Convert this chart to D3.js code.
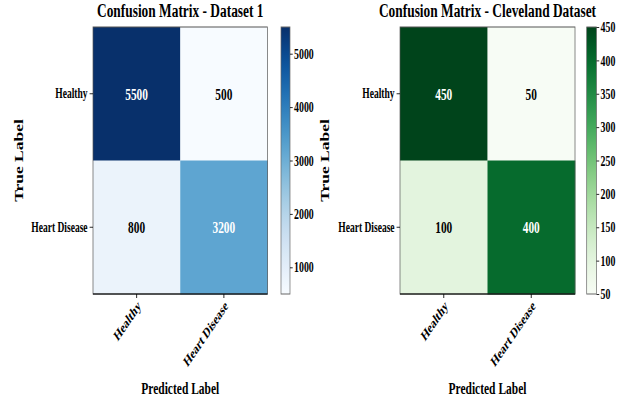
<!DOCTYPE html>
<html>
<head>
<meta charset="utf-8">
<script src="https://cdn.jsdelivr.net/npm/d3@7"></script>
<style>
  body { margin: 0; background: #fff; }
  text { font-family: 'Liberation Serif', 'Times New Roman', serif; font-weight: bold; fill: #000; }
</style>
</head>
<body>
<div id="chart"></div>
<script>
const classes = ['Healthy', 'Heart Disease'];
const matrix1 = [[5500, 500], [800, 3200]];
const matrix2 = [[450, 50], [100, 400]];
const cbTicks1 = [1000, 2000, 3000, 4000, 5000];
const cbTicks2 = [50, 100, 150, 200, 250, 300, 350, 400, 450];
const titles = ['Confusion Matrix - Dataset 1', 'Confusion Matrix - Cleveland Dataset'];

// the picture is squeezed sideways, so everything is drawn wide and scaled in x
const sx = 0.68;
const X = v => v / sx;
const plotTop = 27, plotBottom = 294;

const svg = d3.select('#chart').append('svg')
  .attr('width', 628).attr('height', 401);
const defs = svg.append('defs');
const root = svg.append('g').attr('transform', `scale(${sx},1)`);

function drawPanel(matrix, interp, cbTicks, title, box) {
  const g = root.append('g');
  const flat = matrix.flat();
  const vmin = d3.min(flat), vmax = d3.max(flat);
  const color = d3.scaleSequential(interp).domain([vmin, vmax]);

  const xScale = d3.scaleBand().domain(classes).range([X(box.left), X(box.right)]);
  const yScale = d3.scaleBand().domain(classes).range([plotTop, plotBottom]);

  const cells = [];
  matrix.forEach((row, i) => row.forEach((v, j) => cells.push({ t: classes[i], p: classes[j], v })));

  g.selectAll('rect.cell')
    .data(cells).enter()
    .append('rect')
    .attr('class', 'cell')
    .attr('x', d => xScale(d.p))
    .attr('y', d => yScale(d.t))
    .attr('width', xScale.bandwidth() + 0.5)
    .attr('height', yScale.bandwidth() + 0.5)
    .style('fill', d => color(d.v));

  g.selectAll('text.annot')
    .data(cells).enter()
    .append('text')
    .attr('class', 'annot')
    .attr('x', d => xScale(d.p) + xScale.bandwidth() / 2)
    .attr('y', d => yScale(d.t) + yScale.bandwidth() / 2)
    .attr('dy', '0.35em')
    .style('text-anchor', 'middle')
    .style('font-size', '16.7px')
    .style('fill', d => d.v > (vmin + vmax) / 2 ? '#fff' : '#000')
    .text(d => d.v);

  // spines
  g.append('rect')
    .attr('x', X(box.left)).attr('y', plotTop)
    .attr('width', X(box.right) - X(box.left)).attr('height', plotBottom - plotTop)
    .style('fill', 'none').style('stroke', '#555').style('stroke-width', 1);
  g.append('line')
    .attr('x1', X(box.left)).attr('x2', X(box.right))
    .attr('y1', plotBottom).attr('y2', plotBottom)
    .style('stroke', '#000').style('stroke-width', 1.2);

  const yAxis = g.append('g')
    .attr('transform', `translate(${X(box.left)},0)`)
    .call(d3.axisLeft(yScale).tickSize(5).tickPadding(3).tickSizeOuter(0))
    .attr('font-family', null).attr('font-size', null);
  yAxis.select('.domain').remove();
  yAxis.selectAll('text').style('font-size', '14px');

  const xAxis = g.append('g')
    .attr('transform', `translate(0,${plotBottom})`)
    .call(d3.axisBottom(xScale).tickSize(4).tickSizeOuter(0))
    .attr('font-family', null).attr('font-size', null);
  xAxis.select('.domain').remove();
  xAxis.selectAll('text')
    .style('font-size', '14.5px')
    .style('text-anchor', 'end')
    .attr('x', 7).attr('y', 13).attr('dy', 0)
    .attr('transform', 'rotate(-45,7,13)');

  g.append('text')
    .attr('x', (X(box.left) + X(box.right)) / 2)
    .attr('y', 17)
    .style('text-anchor', 'middle')
    .style('font-size', '19.7px')
    .text(title);

  g.append('text')
    .attr('x', (X(box.left) + X(box.right)) / 2)
    .attr('y', 394)
    .style('text-anchor', 'middle')
    .style('font-size', '16.9px')
    .text('Predicted Label');

  g.append('text')
    .attr('transform', `translate(${X(box.ylab)},${(plotTop + plotBottom) / 2}) rotate(-90)`)
    .style('text-anchor', 'middle')
    .style('font-size', '17.5px')
    .text('True Label');

  // colorbar
  const gradId = 'grad' + box.left;
  const grad = defs.append('linearGradient')
    .attr('id', gradId).attr('x1', 0).attr('x2', 0).attr('y1', 1).attr('y2', 0);
  d3.range(0, 1.0001, 0.05).forEach(t => {
    grad.append('stop').attr('offset', t).attr('stop-color', interp(t));
  });
  const cbScale = d3.scaleLinear().domain([vmin, vmax]).range([plotBottom, plotTop]);
  g.append('rect')
    .attr('x', X(box.cbLeft)).attr('y', plotTop)
    .attr('width', X(box.cbRight) - X(box.cbLeft)).attr('height', plotBottom - plotTop)
    .style('fill', `url(#${gradId})`)
    .style('stroke', '#666').style('stroke-width', 1);
  const cbAxis = g.append('g')
    .attr('transform', `translate(${X(box.cbRight)},0)`)
    .call(d3.axisRight(cbScale).tickValues(cbTicks).tickFormat(d3.format('d'))
      .tickSize(4).tickPadding(2).tickSizeOuter(0))
    .attr('font-family', null).attr('font-size', null);
  cbAxis.select('.domain').remove();
  cbAxis.selectAll('text').style('font-size', '14.5px');
}

drawPanel(matrix1, d3.interpolateBlues, cbTicks1, titles[0],
  { left: 93, right: 267.5, cbLeft: 281, cbRight: 290, ylab: 23.3 });
drawPanel(matrix2, d3.interpolateGreens, cbTicks2, titles[1],
  { left: 400, right: 575, cbLeft: 586.7, cbRight: 596.5, ylab: 329.3 });
</script>
</body>
</html>
